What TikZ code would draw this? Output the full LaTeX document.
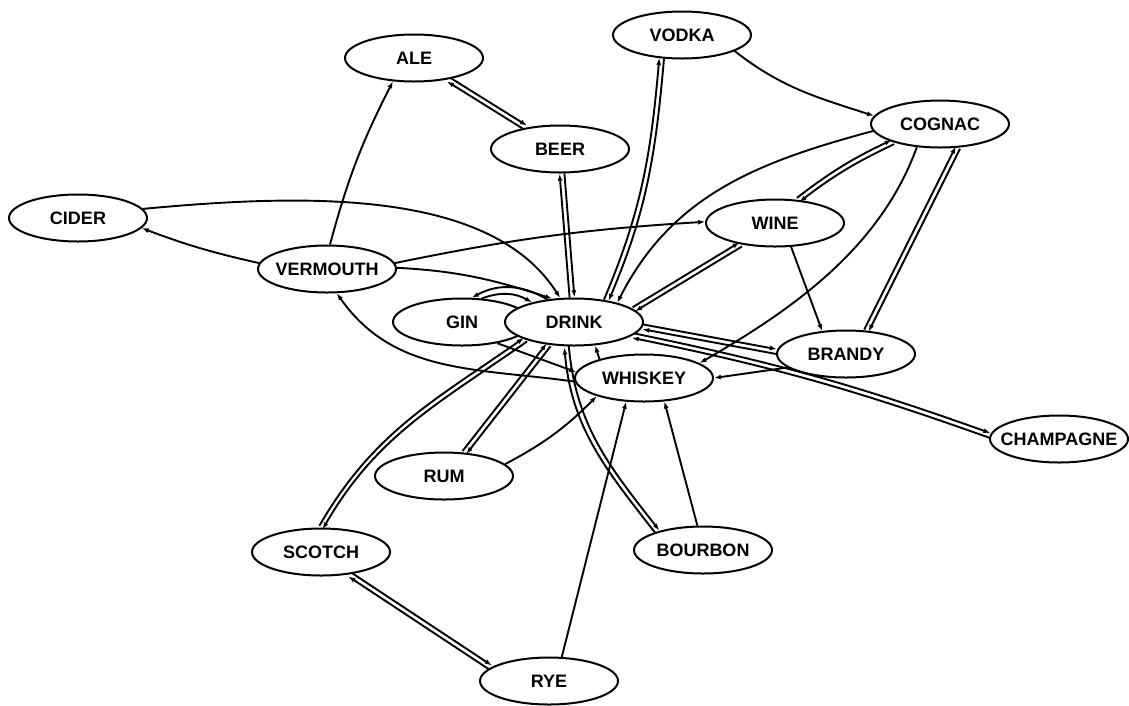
\documentclass[tikz,border=0pt]{standalone}
\usepackage{fontspec}
\setmainfont{Liberation Sans}
\usetikzlibrary{shapes.geometric,arrows.meta,calc}
\pgfdeclarelayer{edgelayer}
\pgfsetlayers{edgelayer,main}
\tikzset{
  concept/.style={ellipse,draw,line width=2pt,fill=white,minimum width=138pt,minimum height=47pt,inner xsep=-20pt,inner ysep=0pt,font=\fontsize{18}{21}\selectfont\bfseries},
  link/.style={line width=1.9pt},
  >={Latex[length=7pt,width=5pt]},
}
\newcommand\twoway[3][]{%
  \path let \p1=($(#3)-(#2)$), \n1={atan2(\y1,\x1)} in \pgfextra{\xdef\twang{\n1}};
  \begin{scope}[transform canvas={shift={(\twang+90:2.4pt)}}]
    \draw[link,->] (#2) to[#1] (#3);
  \end{scope}
  \begin{scope}[transform canvas={shift={(\twang-90:2.4pt)}}]
    \draw[link,<-] (#2) to[#1] (#3);
  \end{scope}}
\begin{document}
\begin{tikzpicture}[x=1pt,y=1pt]
\useasboundingbox (0,0) rectangle (1129,-705);
\node[concept] (ALE) at (414,-58) {ALE};
\node[concept] (BEER) at (560,-149) {BEER};
\node[concept] (VODKA) at (682,-35) {VODKA};
\node[concept] (COGNAC) at (940,-124) {COGNAC};
\node[concept] (CIDER) at (78,-218) {CIDER};
\node[concept] (VERMOUTH) at (327,-269) {VERMOUTH};
\node[concept] (WINE) at (775,-223) {WINE};
\node[concept] (GIN) at (462,-322) {GIN};
\node[concept] (DRINK) at (574,-322) {DRINK};
\node[concept] (WHISKEY) at (644,-378) {WHISKEY};
\node[concept] (BRANDY) at (846,-354) {BRANDY};
\node[concept] (CHAMPAGNE) at (1059,-439) {CHAMPAGNE};
\node[concept] (RUM) at (444,-476) {RUM};
\node[concept] (SCOTCH) at (321,-552) {SCOTCH};
\node[concept] (BOURBON) at (703,-550) {BOURBON};
\node[concept] (RYE) at (549,-681) {RYE};
\begin{pgfonlayer}{edgelayer}
\twoway{ALE}{BEER}
\draw[link,->] (VERMOUTH.83) to[bend left=6] (ALE.228);
\draw[link,->] (VERMOUTH.175) to[bend left=4] (CIDER.-9);
\draw[link,->] (CIDER.8) .. controls +(160,15) and +(-70,110) .. (DRINK.120);
\draw[link,->] (VERMOUTH.5) to[bend left=4] (WINE.179);
\draw[link,->] (VERMOUTH.1) to[out=-3,in=162] (DRINK.133);
\draw[link,->] (WHISKEY.183) to[out=172,in=-55] (VERMOUTH.292);
\twoway{BEER}{DRINK}
\twoway[out=265,in=67]{VODKA.229}{DRINK.34}
\draw[link,->] (VODKA.-17) to[out=-38,in=162] (COGNAC.173);
\draw[link,->] (COGNAC.186) to[out=195,in=63] (DRINK.24);
\twoway[bend right=6]{COGNAC.201}{WINE.45}
\twoway{WINE.212}{DRINK.12}
\draw[link,->] (WINE.-56) -- (BRANDY.136);
\draw[link,->] (COGNAC.225) to[out=250,in=30,looseness=0.9] (WHISKEY.15);
\twoway{COGNAC.-53}{BRANDY.49}
\twoway{DRINK.-4}{BRANDY.178}
\twoway[bend left=4]{DRINK.-13}{CHAMPAGNE.177}
\draw[link,->] (BRANDY.193) -- (WHISKEY.0);
\draw[link,->] (WHISKEY.157) -- (DRINK.-48);
\draw[link,->] (GIN.50) to[bend left=25] (DRINK.155);
\draw[link,<-] (GIN.68) to[bend left=30] (DRINK.140);
\draw[link,->] (GIN.-31) -- (WHISKEY.175);
\twoway{DRINK.222}{RUM.49}
\draw[link,->] (RUM.11) to[out=28,in=225] (WHISKEY.201);
\twoway[out=215,in=60]{DRINK.200}{SCOTCH.90}
\twoway{SCOTCH.-38}{RYE.167}
\draw[link,->] (RYE.62) -- (WHISKEY.233);
\draw[link,->] (BOURBON.103) -- (WHISKEY.-49);
\twoway[out=275,in=128]{DRINK.253}{BOURBON.158}
\end{pgfonlayer}
\end{tikzpicture}
\end{document}
